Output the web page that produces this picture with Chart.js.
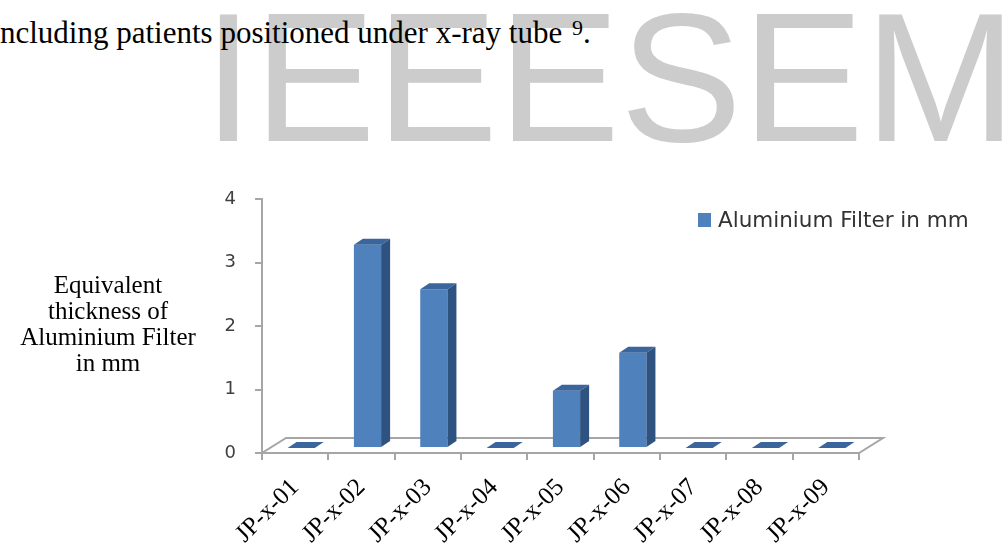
<!DOCTYPE html>
<html>
<head>
<meta charset="utf-8">
<script src="https://cdn.jsdelivr.net/npm/chart.js@4/dist/chart.umd.min.js"></script>
<style>
  html, body { margin: 0; padding: 0; background: #fff; }
  #page { position: relative; width: 1002px; height: 544px; overflow: hidden; background: #fff; }
  .mark {
    position: absolute; left: 203px; top: -14px;
    font-family: "Liberation Sans", Arial, sans-serif;
    font-size: 183px; line-height: 183px; color: #cccccc; white-space: nowrap;
  }
  .sentence {
    position: absolute; left: 0; top: 17px;
    font-family: "Liberation Serif", "Times New Roman", serif;
    font-size: 31px; line-height: 31px; color: #000; white-space: nowrap;
  }
  .sentence .ref { font-size: 22px; position: relative; top: -8px; margin-left: 2px; }
  #chart { position: absolute; left: 0; top: 0; }
</style>
</head>
<body>
<div id="page">
  <div class="mark">IEEESEM</div>
  <div class="sentence">ncluding patients positioned under x-ray tube <span class="ref">9</span>.</div>
  <canvas id="chart" width="1002" height="544"></canvas>
</div>
<script>
// Filter thickness per x-ray unit
const categories = ['JP-x-01', 'JP-x-02', 'JP-x-03', 'JP-x-04', 'JP-x-05', 'JP-x-06', 'JP-x-07', 'JP-x-08', 'JP-x-09'];
const filterThicknessMm = [0, 3.2, 2.5, 0, 0.9, 1.5, 0, 0, 0];
const seriesName = 'Aluminium Filter in mm';
const yTickValues = [0, 1, 2, 3, 4];
const yAxisTitle = ['Equivalent', 'thickness of', 'Aluminium Filter', 'in mm'];

// 3-D look: floor depth, where bars stand on the floor, and bar depth
const DEPTH = { floorX: 24, floorY: -15, barX: 6, barY: -5, faceX: 9, faceY: -6 };
const COLORS = { front: '#4F81BD', top: '#3B669D', side: '#2F5381', axis: '#A6A6A6', text: '#404040' };

const threeD = {
  id: 'threeD',
  beforeDatasetsDraw(chart) {
    const { ctx, chartArea: a } = chart;
    ctx.save();
    ctx.beginPath();
    ctx.moveTo(a.left, a.bottom);
    ctx.lineTo(a.right, a.bottom);
    ctx.lineTo(a.right + DEPTH.floorX, a.bottom + DEPTH.floorY);
    ctx.lineTo(a.left + DEPTH.floorX, a.bottom + DEPTH.floorY);
    ctx.closePath();
    ctx.fillStyle = '#ffffff';
    ctx.fill();
    ctx.strokeStyle = COLORS.axis;
    ctx.lineWidth = 2;
    ctx.stroke();
    ctx.restore();
    // bars sit half-way back on the floor
    ctx.save();
    ctx.translate(DEPTH.barX, DEPTH.barY);
  },
  afterDatasetsDraw(chart) {
    const ctx = chart.ctx;
    const fx = DEPTH.faceX, fy = DEPTH.faceY;
    chart.getDatasetMeta(0).data.forEach(bar => {
      const { x, y, width, base } = bar.getProps(['x', 'y', 'width', 'base'], true);
      const l = x - width / 2, r = x + width / 2;
      ctx.fillStyle = COLORS.top;
      ctx.beginPath();
      ctx.moveTo(l, y);
      ctx.lineTo(r, y);
      ctx.lineTo(r + fx, y + fy);
      ctx.lineTo(l + fx, y + fy);
      ctx.closePath();
      ctx.fill();
      if (base - y > 0.5) {
        ctx.fillStyle = COLORS.side;
        ctx.beginPath();
        ctx.moveTo(r, y);
        ctx.lineTo(r + fx, y + fy);
        ctx.lineTo(r + fx, base + fy);
        ctx.lineTo(r, base);
        ctx.closePath();
        ctx.fill();
      }
    });
    ctx.restore();
  },
  afterDraw(chart) {
    const ctx = chart.ctx;
    ctx.save();
    // legend
    ctx.fillStyle = COLORS.front;
    ctx.fillRect(698, 213, 13, 14);
    ctx.fillStyle = '#333333';
    ctx.font = '21.5px "DejaVu Sans"';
    ctx.textBaseline = 'alphabetic';
    ctx.textAlign = 'left';
    ctx.fillText(chart.data.datasets[0].label, 718, 227);
    // value axis title, set horizontally
    ctx.fillStyle = '#000000';
    ctx.font = '25px "Liberation Serif"';
    ctx.textAlign = 'center';
    yAxisTitle.forEach((line, i) => ctx.fillText(line, 108, 293 + i * 26));
    ctx.restore();
  }
};

new Chart(document.getElementById('chart'), {
  type: 'bar',
  data: {
    labels: categories,
    datasets: [{
      label: seriesName,
      data: filterThicknessMm,
      backgroundColor: COLORS.front,
      borderWidth: 0,
      categoryPercentage: 1,
      barPercentage: 0.41
    }]
  },
  options: {
    responsive: false,
    animation: false,
    devicePixelRatio: 1,
    layout: { padding: { left: 200, right: 143, top: 199, bottom: 0 } },
    plugins: { legend: { display: false }, tooltip: { enabled: false } },
    scales: {
      x: {
        afterFit(scale) { scale.height = 91; },
        grid: { drawOnChartArea: false, offset: true, tickLength: 7, color: COLORS.axis, lineWidth: 2 },
        border: { color: COLORS.axis, width: 2 },
        ticks: {
          autoSkip: false, maxRotation: 45, minRotation: 45, padding: 13,
          color: '#000000', font: { family: 'Liberation Serif', size: 25 }
        }
      },
      y: {
        min: 0, max: 4,
        afterFit(scale) { scale.width = 62; },
        afterBuildTicks(scale) { scale.ticks = yTickValues.map(v => ({ value: v })); },
        grid: { drawOnChartArea: false, tickLength: 7, color: COLORS.axis, lineWidth: 2 },
        border: { color: COLORS.axis, width: 2 },
        ticks: { padding: 19, color: COLORS.text, font: { family: 'DejaVu Sans', size: 18 } }
      }
    }
  },
  plugins: [threeD]
});
</script>
</body>
</html>
